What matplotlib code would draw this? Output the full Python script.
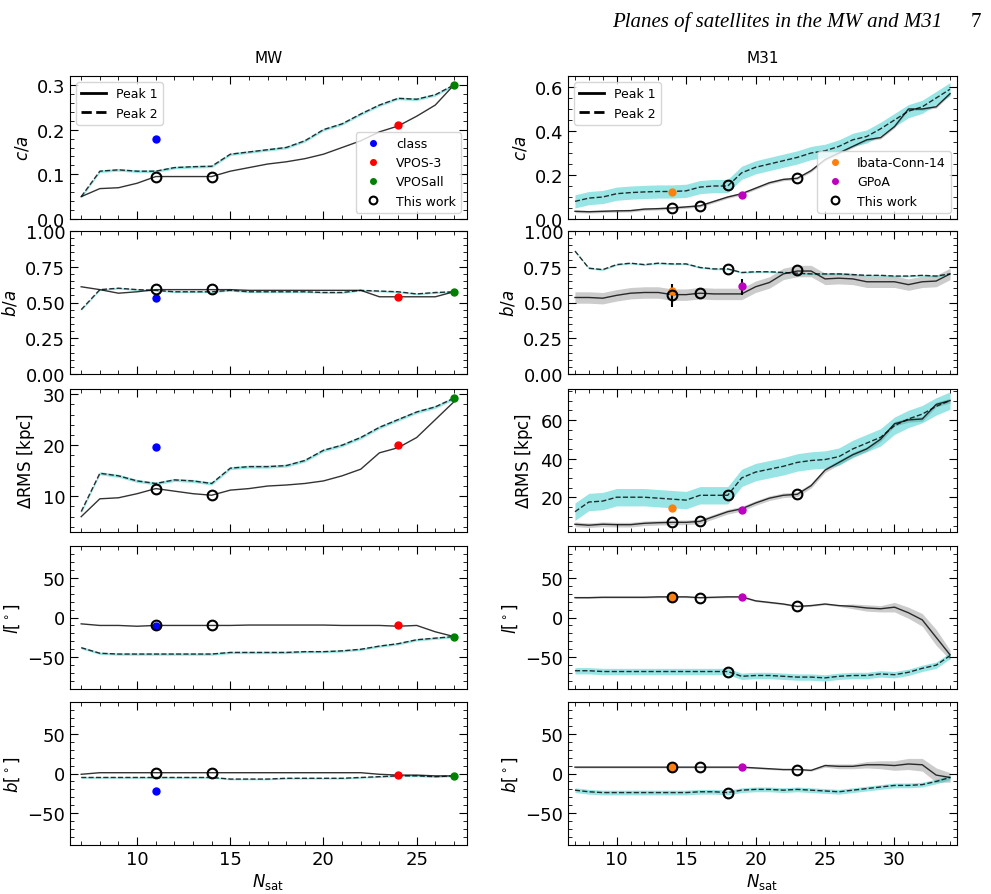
import numpy as np
import matplotlib
matplotlib.use("Agg")
import matplotlib.pyplot as plt
from matplotlib.lines import Line2D

# ---------------- data ----------------
n_mw = list(range(7, 28))
mw_ca1 = [0.05,0.068,0.07,0.08,0.095,0.095,0.095,0.095,0.107,0.115,0.123,0.128,0.135,0.145,0.16,0.175,0.195,0.208,0.23,0.255,0.30]
mw_ca2 = [0.05,0.107,0.11,0.107,0.107,0.115,0.117,0.118,0.145,0.15,0.155,0.16,0.175,0.2,0.213,0.235,0.255,0.27,0.268,0.278,0.30]
mw_ba1 = [0.61,0.59,0.565,0.575,0.59,0.59,0.59,0.59,0.59,0.585,0.585,0.585,0.585,0.585,0.585,0.585,0.54,0.54,0.54,0.54,0.575]
mw_ba2 = [0.45,0.59,0.6,0.59,0.585,0.575,0.575,0.575,0.585,0.575,0.575,0.575,0.575,0.57,0.57,0.585,0.58,0.575,0.56,0.57,0.575]
mw_rms1 = [6,9.5,9.7,10.5,11.5,11,10.5,10.2,11.2,11.5,12,12.2,12.5,13,14,15.3,18.5,19.5,21.5,25,28.5]
mw_rms2 = [7,14.5,14,13,12.5,13.2,13,12.5,15.5,15.8,15.8,16,17,19,20,21.5,23.5,25,26.5,27.5,29.2]
mw_l1 = [-8,-10,-10,-11,-10,-10,-10,-10,-10,-9.5,-9.5,-9.5,-9.5,-9.5,-10,-10,-10,-11,-10,-18,-24]
mw_l2 = [-38,-45,-46,-46,-46,-46,-46,-46,-44,-44,-44,-44,-43,-43,-42,-40,-36,-33,-28,-26,-24]
mw_b1 = [-1,1,1,1,1,1,1,1,1,1,1,1,1,1,1,1,-1,-2,-2,-3,-3]
mw_b2 = [-5,-5,-5,-5,-5,-5,-5,-5,-7,-7,-7,-6,-6,-6,-6,-5,-4,-3,-3,-4,-3]
mw_pts = {
    "class": (11, [0.18, 0.53, 19.7, -11, -22], "blue"),
    "VPOS-3": (24, [0.21, 0.535, 20, -10, -2], "red"),
    "VPOSall": (27, [0.30, 0.575, 29.3, -24, -3], "green"),
}
mw_tw_n = [11, 14]
mw_tw = [[0.095,0.095],[0.595,0.595],[11.5,10.2],[-10,-10],[1,1]]

n_m31 = list(range(7, 35))
m31_ca1 = [0.035,0.033,0.035,0.037,0.038,0.045,0.047,0.05,0.055,0.06,0.08,0.1,0.115,0.14,0.165,0.18,0.185,0.22,0.27,0.3,0.33,0.36,0.37,0.42,0.5,0.5,0.51,0.57]
m31_ca2 = [0.08,0.095,0.1,0.115,0.12,0.123,0.125,0.125,0.128,0.145,0.15,0.15,0.21,0.235,0.25,0.265,0.28,0.3,0.31,0.33,0.36,0.375,0.41,0.45,0.49,0.51,0.55,0.59]
m31_ba1 = [.535,.535,.53,.55,.565,.57,.57,.555,.555,.565,.56,.56,.56,.61,.64,.7,.72,.72,.665,.67,.665,.645,.645,.645,.625,.645,.65,.7]
m31_ba2 = [.86,.74,.73,.765,.775,.765,.775,.77,.77,.745,.735,.735,.71,.715,.715,.71,.705,.70,.70,.70,.695,.69,.69,.685,.685,.69,.685,.70]
m31_rms1 = [6,5.5,6,5.8,5.8,6.5,6.8,7,7,7.5,10,12.5,14,17,19.5,21,21.5,26,34,38,42,45,50,58,60,60.5,68,70]
m31_rms2 = [12.5,17.5,18,20,20,20,19.5,19,18.5,21,21,21,30,33,34.5,36,38,39,39.5,41,45,48,51,57,60.5,63,67,70]
m31_l1 = [25,25,25.5,25.5,25.5,25.5,26,26,26,25,25.5,26,26,21,19,17,14,15,17,15,14,12,11,13,6,-3,-25,-47]
m31_l2 = [-67,-67,-68,-68,-68,-68,-68,-68,-68,-68,-68,-68,-74,-73,-73,-74,-75,-75,-76,-74,-73,-73,-71,-72,-69,-64,-60,-48]
m31_b1 = [8,8,8,8,8,8,8,8,8,8,8,8,8,7,6,5,5,4,10,9,9,11,11,10,12,11,-2,-5]
m31_b2 = [-21,-23,-24,-24,-24,-24,-24,-24,-24,-23,-23,-24,-21,-20,-20,-21,-20,-21,-22,-23,-21,-19,-17,-15,-15,-14,-10,-5]
m31_pts = {
    "Ibata-Conn-14": (14, [0.125, 0.58, 14.5, 26, 8], "tab:orange"),
    "GPoA": (19, [0.108, 0.615, 13.5, 26, 8], "m"),
}
m31_tw_n = [14, 16, 18, 23]
m31_tw = [[0.05,0.06,0.155,0.185],[0.55,0.565,0.735,0.725],[7,7.5,21,21.5],[26,25,-68,14],[8,8,-24,5]]
m31_err = {14: (0.55, 0.08), 19: (0.61, 0.055)}
# grey band half-widths for peak 1 (l and b grow at large N)
m31_l1_err = [1]*20 + [3, 4, 4, 6, 7, 8, 10, 6]
m31_b1_err = [1]*18 + [2, 3, 3, 4, 5, 6, 7, 8, 9, 6]

ylabels = ["$c/a$", "$b/a$", r"$\Delta$RMS [kpc]", r"$l[^\circ]$", r"$b[^\circ]$"]
mw_ylim = [(0, 0.32), (0, 1.0), (3, 31), (-90, 90), (-90, 90)]
m31_ylim = [(0, 0.65), (0, 1.0), (2, 76), (-90, 90), (-90, 90)]
mw_band = [0.003, 0.006, 0.3, 1.5, 1.0]
m31_band1 = [0.006, 0.04, 1.2, np.array(m31_l1_err), np.array(m31_b1_err)]
m31_band2 = [0.03, 0.006, 4.5, 4, 3]

fig = plt.figure(figsize=(9.91, 8.95), dpi=100)
W, H = 991, 895
rows_top = [77, 232, 390, 547, 703]
rh = 143
cols = [(70, 467), (568, 957)]
axes = [[None]*5 for _ in range(2)]
for c, (x0, x1) in enumerate(cols):
    for r, yt in enumerate(rows_top):
        axes[c][r] = fig.add_axes([x0/W, 1-(yt+rh)/H, (x1-x0)/W, rh/H])

def style(ax):
    ax.minorticks_on()
    ax.tick_params(which="both", direction="in", top=True, right=True, labelsize=13)
    ax.tick_params(which="major", length=6)
    ax.tick_params(which="minor", length=3)

mw_series = [(mw_ca1, mw_ca2), (mw_ba1, mw_ba2), (mw_rms1, mw_rms2), (mw_l1, mw_l2), (mw_b1, mw_b2)]
m31_series = [(m31_ca1, m31_ca2), (m31_ba1, m31_ba2), (m31_rms1, m31_rms2), (m31_l1, m31_l2), (m31_b1, m31_b2)]

for r in range(5):
    ax = axes[0][r]
    s1, s2 = np.array(mw_series[r][0]), np.array(mw_series[r][1])
    ax.fill_between(n_mw, s2-mw_band[r], s2+mw_band[r], color="c", alpha=0.4, lw=0)
    ax.plot(n_mw, s1, "-", color="k", lw=1, alpha=0.8)
    ax.plot(n_mw, s2, "--", color="k", lw=1, alpha=0.8)
    for name, (n, vals, col) in mw_pts.items():
        ax.plot(n, vals[r], "o", color=col, ms=5, label=name, zorder=5)
    ax.plot(mw_tw_n, mw_tw[r], "o", mfc="none", mec="k", mew=1.5, ms=7, label="This work", zorder=6)
    ax.set_xlim(6.4, 27.7)
    ax.set_ylim(*mw_ylim[r])
    ax.set_ylabel(ylabels[r], fontsize=12)
    style(ax)

    ax = axes[1][r]
    s1, s2 = np.array(m31_series[r][0]), np.array(m31_series[r][1])
    ax.fill_between(n_m31, s1-m31_band1[r], s1+m31_band1[r], color="grey", alpha=0.4, lw=0)
    ax.fill_between(n_m31, s2-m31_band2[r], s2+m31_band2[r], color="c", alpha=0.4, lw=0)
    ax.plot(n_m31, s1, "-", color="k", lw=1, alpha=0.8)
    ax.plot(n_m31, s2, "--", color="k", lw=1, alpha=0.8)
    if r == 1:
        for n, (v, e) in m31_err.items():
            ax.errorbar(n, v, yerr=e, fmt="none", ecolor="k", lw=1.5, zorder=4)
    for name, (n, vals, col) in m31_pts.items():
        ax.plot(n, vals[r], "o", color=col, ms=5, label=name, zorder=5)
    ax.plot(m31_tw_n, m31_tw[r], "o", mfc="none", mec="k", mew=1.5, ms=7, label="This work", zorder=6)
    ax.set_xlim(6.5, 34.5)
    ax.set_ylim(*m31_ylim[r])
    ax.set_ylabel(ylabels[r], fontsize=12)
    style(ax)

for c in range(2):
    for r in range(4):
        axes[c][r].tick_params(labelbottom=False)
    axes[c][4].set_xlabel(r"$N_{\rm sat}$", fontsize=12, labelpad=2)
    axes[c][1].set_yticks([0, 0.25, 0.5, 0.75, 1.0])
    for r in (3, 4):
        axes[c][r].set_yticks([-50, 0, 50])
axes[0][0].set_yticks([0, 0.1, 0.2, 0.3])
axes[0][2].set_yticks([10, 20, 30])
axes[1][0].set_yticks([0, 0.2, 0.4, 0.6])
axes[1][2].set_yticks([20, 40, 60])
for c in range(2):
    axes[c][4].set_xticks([10, 15, 20, 25] + ([30] if c == 1 else []))

axes[0][0].set_title("MW", fontsize=11, pad=10)
axes[1][0].set_title("M31", fontsize=11, pad=10)

peak_handles = [Line2D([], [], color="k", ls="-", lw=2), Line2D([], [], color="k", ls="--", lw=2)]
for c in range(2):
    ax = axes[c][0]
    h, l = ax.get_legend_handles_labels()
    leg1 = ax.legend(peak_handles, ["Peak 1", "Peak 2"], loc="upper left", fontsize=9)
    ax.add_artist(leg1)
    ax.legend(h, l, loc="lower right", fontsize=9, markerscale=0.8)

fig.text(0.951, 0.975, "Planes of satellites in the MW and M31", ha="right", va="center",
         fontsize=15, style="italic", family="Liberation Serif")
fig.text(0.99, 0.975, "7", ha="right", va="center", fontsize=15, family="Liberation Serif")

fig.savefig("out.png", dpi=100)
